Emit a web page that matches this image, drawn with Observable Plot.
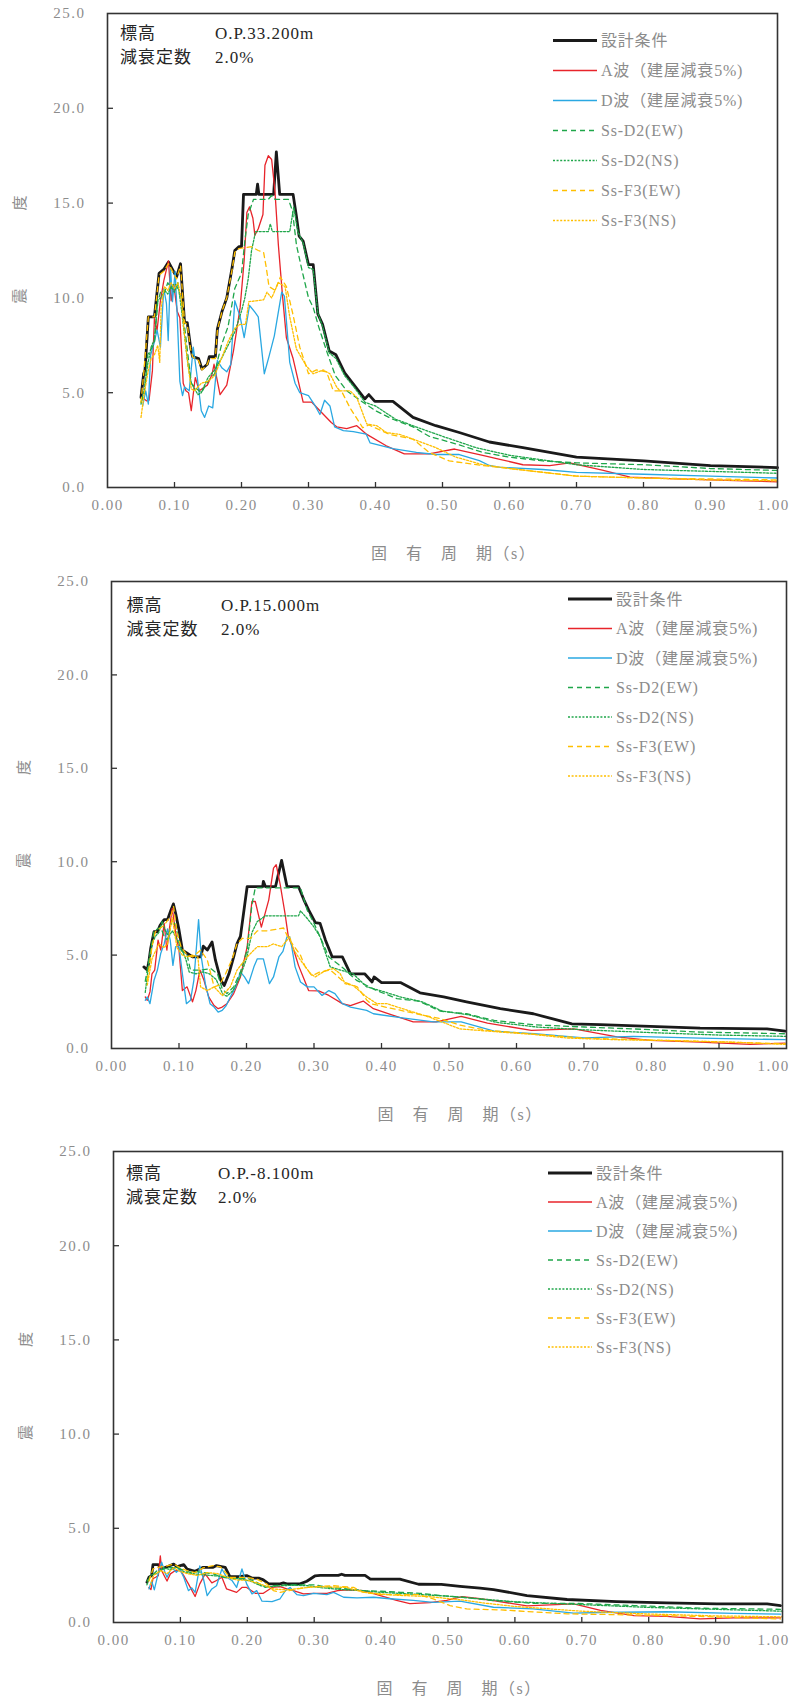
<!DOCTYPE html>
<html><head><meta charset="utf-8">
<script src="https://cdn.jsdelivr.net/npm/d3@7"></script>
<script src="https://cdn.jsdelivr.net/npm/@observablehq/plot@0.6"></script>
<style>
body{margin:0;background:#fff}
#root{position:relative;width:793px;height:1702px;overflow:hidden;background:#fff}
#root svg{position:absolute;left:0}
#root g[aria-label="x-axis tick label"] text,#root g[aria-label="y-axis tick label"] text{letter-spacing:1.5px}
</style></head><body><div id="root"></div>
<script>
// ---- names / ticks ----
const seriesNames = ["設計条件","A波（建屋減衰5%)","D波（建屋減衰5%)","Ss-D2(EW)","Ss-D2(NS)","Ss-F3(EW)","Ss-F3(NS)"];
const annoKeys = ["標高","減衰定数"];
const elevations = ["O.P.33.200m","O.P.15.000m","O.P.-8.100m"];
const dampingValue = "2.0%";
const xTitle = "固　有　周　期（s）";
const yTitleChars = ["震","度"];
const xTicks = [0,0.1,0.2,0.3,0.4,0.5,0.6,0.7,0.8,0.9,1.0];
const yTicks = [0,5,10,15,20,25];

// ---- panel 1 (O.P.33.200m) ----
const p1Design = [[0.050,4.75],[0.054,6.0],[0.056,6.2],[0.061,9.0],[0.070,9.0],[0.077,11.3],[0.084,11.5],[0.091,11.9],[0.097,11.5],[0.103,11.1],[0.109,11.8],[0.115,8.7],[0.119,8.7],[0.124,7.4],[0.127,6.9],[0.136,6.8],[0.141,6.25],[0.149,6.5],[0.152,6.9],[0.161,6.9],[0.164,8.35],[0.171,9.3],[0.178,10.0],[0.186,11.6],[0.190,12.5],[0.196,12.7],[0.200,12.7],[0.203,15.46],[0.222,15.46],[0.224,16.0],[0.226,15.46],[0.248,15.46],[0.252,17.7],[0.257,15.46],[0.277,15.46],[0.282,14.3],[0.286,13.26],[0.292,13.0],[0.300,11.75],[0.307,11.75],[0.314,9.15],[0.321,8.6],[0.331,7.2],[0.341,7.0],[0.354,6.05],[0.384,4.67],[0.390,4.9],[0.399,4.54],[0.426,4.54],[0.456,3.7],[0.490,3.26],[0.525,2.9],[0.570,2.4],[0.62,2.1],[0.70,1.6],[0.80,1.4],[0.90,1.15],[1.00,1.05]];
const p1A = [[0.052,4.75],[0.058,4.57],[0.062,4.6],[0.067,6.15],[0.070,8.9],[0.074,8.3],[0.079,9.85],[0.084,10.9],[0.091,11.95],[0.095,9.85],[0.099,10.7],[0.104,9.3],[0.108,8.95],[0.113,5.5],[0.117,5.1],[0.121,5.0],[0.125,4.05],[0.131,5.8],[0.137,5.1],[0.149,5.4],[0.156,5.96],[0.159,6.5],[0.168,4.9],[0.178,5.4],[0.188,7.2],[0.198,9.5],[0.204,12.0],[0.208,14.5],[0.212,14.8],[0.217,14.2],[0.220,13.3],[0.225,13.65],[0.232,14.4],[0.235,17.0],[0.240,17.5],[0.245,17.3],[0.250,15.6],[0.255,12.8],[0.261,10.2],[0.267,7.9],[0.277,6.8],[0.292,4.5],[0.305,4.5],[0.317,4.05],[0.334,3.43],[0.342,3.2],[0.357,3.1],[0.372,3.26],[0.387,2.8],[0.416,2.2],[0.443,1.77],[0.480,1.77],[0.518,2.03],[0.560,1.7],[0.584,1.5],[0.62,1.2],[0.66,1.15],[0.69,1.3],[0.74,0.9],[0.78,0.55],[0.85,0.45],[0.95,0.35],[1.0,0.3]];
const p1D = [[0.0525,4.3],[0.057,5.1],[0.061,4.4],[0.0645,7.0],[0.069,7.55],[0.074,8.3],[0.079,7.4],[0.084,10.5],[0.088,9.7],[0.0906,7.75],[0.094,11.6],[0.097,9.8],[0.101,11.4],[0.104,9.1],[0.108,5.6],[0.112,4.85],[0.115,5.3],[0.122,5.1],[0.128,7.4],[0.134,5.8],[0.140,4.05],[0.145,3.7],[0.151,4.3],[0.157,4.2],[0.164,6.7],[0.171,6.3],[0.178,6.1],[0.184,6.5],[0.190,9.85],[0.198,9.0],[0.204,7.9],[0.212,9.6],[0.220,9.25],[0.225,9.0],[0.234,6.0],[0.241,6.9],[0.249,8.0],[0.260,10.3],[0.264,10.1],[0.272,6.6],[0.280,5.5],[0.287,5.0],[0.300,4.85],[0.310,4.3],[0.317,3.85],[0.324,4.6],[0.332,4.3],[0.339,3.2],[0.352,3.0],[0.367,2.95],[0.386,2.82],[0.392,2.35],[0.426,2.05],[0.461,1.85],[0.490,1.74],[0.525,1.74],[0.555,1.42],[0.570,1.16],[0.584,1.07],[0.65,0.95],[0.70,0.8],[0.80,0.7],[0.90,0.6],[1.0,0.5]];
const p1D2EW = [[0.05,4.5],[0.055,5.0],[0.06,7.0],[0.065,7.3],[0.07,7.6],[0.075,9.8],[0.08,10.4],[0.085,10.3],[0.09,10.8],[0.095,10.5],[0.10,10.8],[0.105,10.5],[0.11,10.0],[0.115,8.5],[0.12,7.0],[0.125,5.5],[0.13,5.3],[0.14,5.0],[0.15,5.6],[0.16,6.0],[0.165,6.8],[0.17,7.5],[0.18,8.5],[0.19,10.5],[0.20,11.3],[0.205,13.0],[0.21,14.4],[0.218,15.2],[0.240,15.2],[0.245,15.4],[0.250,15.2],[0.270,15.2],[0.276,14.6],[0.282,12.8],[0.29,11.5],[0.30,10.0],[0.307,9.5],[0.315,8.5],[0.327,7.2],[0.34,5.9],[0.357,5.1],[0.377,4.6],[0.40,4.05],[0.426,3.6],[0.456,3.2],[0.48,2.7],[0.52,2.3],[0.56,1.85],[0.6,1.6],[0.65,1.4],[0.7,1.3],[0.8,1.2],[0.9,1.0],[1.0,0.9]];
const p1D2NS = [[0.05,4.4],[0.055,5.2],[0.06,6.5],[0.065,7.4],[0.07,7.8],[0.075,9.9],[0.08,10.0],[0.085,10.4],[0.09,10.2],[0.095,10.6],[0.10,10.3],[0.105,10.8],[0.11,9.5],[0.115,8.0],[0.12,6.5],[0.125,5.5],[0.13,5.2],[0.135,4.9],[0.14,5.0],[0.15,5.8],[0.16,6.2],[0.17,6.8],[0.18,7.5],[0.19,8.2],[0.20,9.3],[0.205,10.0],[0.21,11.0],[0.215,12.5],[0.221,13.5],[0.240,13.5],[0.243,13.9],[0.246,13.5],[0.272,13.5],[0.278,14.8],[0.284,13.5],[0.292,12.9],[0.30,11.6],[0.307,11.5],[0.314,9.2],[0.321,8.5],[0.331,7.1],[0.341,6.8],[0.354,5.9],[0.37,5.2],[0.384,4.5],[0.40,4.3],[0.43,3.6],[0.46,3.2],[0.50,2.7],[0.55,2.1],[0.6,1.7],[0.7,1.2],[0.8,0.95],[0.9,0.85],[1.0,0.75]];
const p1F3EW = [[0.05,4.5],[0.054,6.0],[0.061,9.0],[0.070,9.0],[0.077,11.2],[0.084,11.4],[0.091,11.8],[0.097,11.4],[0.103,11.0],[0.109,11.7],[0.115,8.7],[0.119,8.6],[0.124,7.3],[0.127,6.9],[0.136,6.7],[0.141,6.2],[0.149,6.5],[0.152,6.8],[0.161,6.8],[0.164,8.3],[0.171,9.3],[0.178,10.0],[0.186,11.5],[0.190,12.4],[0.196,12.6],[0.215,12.7],[0.225,12.5],[0.233,12.4],[0.237,11.6],[0.241,10.6],[0.25,10.4],[0.258,11.1],[0.267,10.6],[0.277,9.1],[0.287,7.4],[0.30,6.0],[0.312,6.2],[0.327,6.1],[0.337,5.1],[0.349,5.1],[0.362,4.2],[0.381,3.15],[0.39,3.3],[0.421,2.8],[0.456,2.55],[0.48,1.85],[0.51,1.4],[0.56,1.16],[0.6,1.0],[0.65,0.8],[0.7,0.6],[0.8,0.5],[0.9,0.45],[1.0,0.4]];
const p1F3NS = [[0.05,3.7],[0.055,5.0],[0.06,6.0],[0.065,6.8],[0.07,7.0],[0.075,7.5],[0.078,6.6],[0.08,9.5],[0.085,10.6],[0.09,10.4],[0.095,10.8],[0.10,10.5],[0.105,10.8],[0.11,10.0],[0.115,8.0],[0.12,6.5],[0.125,5.2],[0.13,5.1],[0.14,5.5],[0.15,5.6],[0.16,5.9],[0.17,6.8],[0.18,7.7],[0.19,8.4],[0.198,8.6],[0.206,8.6],[0.211,9.8],[0.233,9.9],[0.238,10.3],[0.245,10.0],[0.255,10.8],[0.265,10.6],[0.272,9.0],[0.282,7.3],[0.297,6.4],[0.307,6.0],[0.322,6.2],[0.332,6.0],[0.342,5.3],[0.347,5.1],[0.362,5.1],[0.372,4.75],[0.387,3.35],[0.402,3.26],[0.416,2.9],[0.436,2.8],[0.46,2.5],[0.49,2.1],[0.52,1.6],[0.56,1.2],[0.6,1.0],[0.7,0.6],[0.8,0.5],[0.9,0.4],[1.0,0.35]];

// ---- panel 2 (O.P.15.000m) ----
const p2Design = [[0.048,4.37],[0.053,4.2],[0.0557,4.73],[0.058,5.35],[0.063,6.25],[0.068,6.25],[0.072,6.6],[0.078,6.9],[0.083,6.9],[0.088,7.4],[0.0917,7.74],[0.095,7.24],[0.100,6.35],[0.105,5.27],[0.112,5.1],[0.120,4.9],[0.132,4.9],[0.136,5.48],[0.142,5.27],[0.149,5.7],[0.154,4.73],[0.162,3.65],[0.167,3.37],[0.174,4.0],[0.181,4.9],[0.186,5.62],[0.191,6.0],[0.201,8.67],[0.224,8.67],[0.225,8.95],[0.228,8.67],[0.243,8.67],[0.252,10.07],[0.260,8.67],[0.277,8.67],[0.285,7.96],[0.292,7.42],[0.302,6.74],[0.309,6.7],[0.317,5.8],[0.327,4.9],[0.342,4.9],[0.354,4.0],[0.375,4.0],[0.386,3.56],[0.389,3.83],[0.400,3.53],[0.428,3.53],[0.457,2.98],[0.492,2.76],[0.526,2.49],[0.576,2.13],[0.625,1.86],[0.682,1.32],[0.724,1.28],[0.798,1.18],[0.872,1.09],[0.971,1.05],[0.998,0.93]];
const p2A = [[0.050,2.76],[0.053,2.58],[0.057,3.03],[0.060,4.0],[0.064,4.2],[0.069,5.8],[0.073,5.27],[0.078,6.7],[0.082,5.27],[0.085,6.2],[0.090,7.5],[0.095,6.2],[0.100,5.27],[0.105,3.1],[0.112,3.3],[0.120,2.5],[0.125,3.1],[0.131,4.2],[0.137,3.65],[0.144,2.76],[0.152,2.3],[0.158,2.13],[0.164,2.22],[0.171,2.4],[0.181,2.94],[0.191,3.83],[0.201,5.45],[0.208,7.87],[0.213,7.87],[0.222,6.5],[0.233,7.96],[0.240,9.66],[0.244,9.84],[0.250,8.76],[0.257,7.24],[0.262,5.98],[0.270,5.27],[0.277,4.45],[0.285,3.74],[0.292,3.1],[0.307,3.08],[0.322,2.84],[0.342,2.4],[0.354,2.3],[0.373,2.54],[0.388,2.13],[0.413,1.83],[0.447,1.42],[0.481,1.42],[0.518,1.72],[0.557,1.36],[0.622,0.97],[0.685,1.05],[0.749,0.62],[0.798,0.43],[0.872,0.34],[0.946,0.22],[0.998,0.29]];
const p2D = [[0.050,2.58],[0.053,2.76],[0.057,2.4],[0.063,3.65],[0.068,4.2],[0.073,5.1],[0.078,5.6],[0.083,6.4],[0.087,5.8],[0.091,4.45],[0.095,5.45],[0.100,5.45],[0.105,4.0],[0.111,2.4],[0.117,2.58],[0.122,3.65],[0.129,6.9],[0.133,4.9],[0.139,3.47],[0.146,2.4],[0.152,2.22],[0.158,1.95],[0.164,2.04],[0.170,2.3],[0.176,2.76],[0.184,3.3],[0.191,4.1],[0.197,3.83],[0.203,3.47],[0.211,4.37],[0.216,4.8],[0.225,4.8],[0.234,3.47],[0.240,3.83],[0.248,4.9],[0.254,5.2],[0.260,5.98],[0.264,5.98],[0.267,5.45],[0.272,4.37],[0.280,3.56],[0.290,3.3],[0.300,3.3],[0.312,2.84],[0.322,3.1],[0.331,2.94],[0.342,2.4],[0.354,2.22],[0.378,2.04],[0.388,1.86],[0.428,1.65],[0.477,1.42],[0.518,1.42],[0.567,0.93],[0.626,0.79],[0.700,0.57],[0.773,0.65],[0.872,0.56],[0.998,0.47]];
const p2D2EW = [[0.050,3.6],[0.058,5.27],[0.063,6.3],[0.073,6.5],[0.078,6.0],[0.083,5.8],[0.09,6.9],[0.095,6.6],[0.103,5.27],[0.112,5.0],[0.117,4.2],[0.132,4.2],[0.147,4.28],[0.157,4.0],[0.164,3.2],[0.171,2.94],[0.181,3.3],[0.191,4.1],[0.201,5.27],[0.208,7.7],[0.213,8.6],[0.280,8.6],[0.290,7.4],[0.300,6.7],[0.309,5.98],[0.322,4.9],[0.344,4.28],[0.363,3.65],[0.393,3.1],[0.423,2.67],[0.455,2.54],[0.487,2.0],[0.526,1.86],[0.567,1.5],[0.626,1.27],[0.700,1.15],[0.773,1.05],[0.872,0.88],[0.998,0.79]];
const p2D2NS = [[0.050,3.0],[0.055,4.5],[0.06,5.6],[0.065,6.0],[0.07,6.2],[0.075,6.8],[0.08,6.3],[0.085,6.0],[0.09,6.3],[0.095,6.0],[0.10,5.6],[0.105,5.2],[0.11,4.8],[0.115,4.1],[0.125,4.0],[0.135,4.1],[0.145,4.0],[0.155,3.7],[0.165,2.9],[0.171,2.8],[0.18,3.1],[0.19,3.8],[0.20,4.8],[0.208,6.2],[0.216,6.8],[0.228,7.1],[0.277,7.1],[0.280,7.37],[0.290,6.96],[0.300,6.5],[0.309,5.98],[0.324,4.37],[0.339,4.2],[0.358,4.0],[0.378,3.3],[0.398,3.1],[0.428,2.76],[0.46,2.5],[0.49,2.0],[0.53,1.8],[0.57,1.4],[0.63,1.15],[0.70,1.0],[0.8,0.85],[0.9,0.72],[1.0,0.65]];
const p2F3EW = [[0.053,3.65],[0.060,5.45],[0.065,6.25],[0.078,6.6],[0.088,7.1],[0.092,7.6],[0.097,6.2],[0.103,5.45],[0.112,5.0],[0.120,4.9],[0.132,5.27],[0.142,4.73],[0.152,3.3],[0.160,3.4],[0.169,4.0],[0.179,4.8],[0.186,5.62],[0.194,5.9],[0.206,5.9],[0.216,6.3],[0.231,6.3],[0.255,6.45],[0.262,5.9],[0.270,5.5],[0.28,4.99],[0.287,4.37],[0.297,3.9],[0.309,4.1],[0.324,4.2],[0.334,3.9],[0.344,3.56],[0.364,3.3],[0.378,2.6],[0.384,2.4],[0.408,2.2],[0.452,1.86],[0.487,1.6],[0.516,1.25],[0.557,0.97],[0.6,0.85],[0.65,0.7],[0.7,0.55],[0.8,0.45],[0.9,0.35],[1.0,0.25]];
const p2F3NS = [[0.053,3.4],[0.060,4.8],[0.070,5.6],[0.078,5.4],[0.083,5.6],[0.090,7.0],[0.097,5.4],[0.105,5.0],[0.112,4.9],[0.12,5.0],[0.128,4.9],[0.132,3.3],[0.142,3.1],[0.152,3.3],[0.164,2.84],[0.176,3.3],[0.186,4.2],[0.201,4.9],[0.211,5.27],[0.216,5.45],[0.231,5.45],[0.240,5.6],[0.252,5.45],[0.264,5.98],[0.270,5.27],[0.280,4.73],[0.295,4.0],[0.302,3.83],[0.309,4.0],[0.319,4.2],[0.329,4.28],[0.339,4.0],[0.346,3.47],[0.358,3.37],[0.378,2.76],[0.393,2.4],[0.408,2.4],[0.447,1.95],[0.471,1.68],[0.516,1.05],[0.576,0.88],[0.626,0.75],[0.675,0.56],[0.749,0.47],[0.823,0.43],[0.921,0.34],[0.998,0.22]];

// ---- panel 3 (O.P.-8.100m) ----
const p3Design = [[0.050,2.14],[0.053,2.4],[0.057,2.49],[0.059,3.07],[0.067,3.07],[0.071,2.84],[0.080,2.96],[0.090,3.1],[0.095,2.96],[0.100,3.02],[0.105,3.07],[0.110,2.84],[0.122,2.72],[0.134,2.93],[0.149,2.93],[0.154,3.02],[0.167,2.93],[0.174,2.44],[0.187,2.44],[0.199,2.49],[0.207,2.36],[0.217,2.36],[0.224,2.26],[0.232,2.05],[0.249,2.05],[0.254,2.1],[0.259,2.05],[0.279,2.05],[0.289,2.19],[0.301,2.47],[0.309,2.5],[0.336,2.5],[0.341,2.56],[0.346,2.5],[0.376,2.5],[0.384,2.3],[0.428,2.3],[0.456,2.03],[0.490,2.02],[0.518,1.92],[0.548,1.83],[0.568,1.75],[0.618,1.43],[0.678,1.22],[0.752,1.11],[0.827,1.04],[0.902,0.99],[0.977,0.99],[0.997,0.9]];
const p3A = [[0.053,1.86],[0.056,1.75],[0.059,2.33],[0.063,2.4],[0.067,2.49],[0.070,3.54],[0.072,2.75],[0.077,2.4],[0.080,2.2],[0.085,2.58],[0.092,2.75],[0.100,2.75],[0.105,2.49],[0.112,2.05],[0.122,1.38],[0.129,2.05],[0.137,2.58],[0.147,2.1],[0.154,2.23],[0.162,2.4],[0.169,1.78],[0.184,1.6],[0.192,1.86],[0.199,1.86],[0.212,1.55],[0.224,1.55],[0.237,1.86],[0.249,1.9],[0.259,1.78],[0.269,1.69],[0.284,1.52],[0.299,1.55],[0.319,1.55],[0.335,1.69],[0.349,1.73],[0.374,1.69],[0.399,1.43],[0.423,1.17],[0.443,1.0],[0.473,1.05],[0.498,1.17],[0.521,1.37],[0.548,1.26],[0.568,1.16],[0.618,0.88],[0.688,0.99],[0.728,0.64],[0.778,0.37],[0.827,0.32],[0.877,0.19],[0.927,0.25],[0.997,0.25]];
const p3D = [[0.053,1.78],[0.057,2.2],[0.061,1.73],[0.066,2.49],[0.072,3.2],[0.077,2.66],[0.080,2.4],[0.087,2.93],[0.094,2.66],[0.099,2.84],[0.105,2.4],[0.112,1.69],[0.117,1.84],[0.122,1.6],[0.129,3.0],[0.135,2.23],[0.140,1.43],[0.147,1.78],[0.154,1.95],[0.162,2.84],[0.169,2.4],[0.177,2.23],[0.184,1.86],[0.192,2.84],[0.199,2.05],[0.207,1.52],[0.214,1.69],[0.222,1.13],[0.237,1.11],[0.249,1.26],[0.257,1.69],[0.264,1.86],[0.274,1.48],[0.284,1.43],[0.299,1.55],[0.319,1.48],[0.329,1.6],[0.344,1.34],[0.364,1.31],[0.389,1.34],[0.413,1.26],[0.448,1.17],[0.478,1.07],[0.518,1.13],[0.568,0.81],[0.627,0.72],[0.688,0.5],[0.728,0.53],[0.827,0.57],[0.927,0.48],[0.997,0.44]];
const p3D2EW = [[0.050,2.2],[0.055,2.4],[0.065,2.75],[0.075,2.84],[0.085,2.93],[0.100,2.84],[0.115,2.66],[0.125,2.7],[0.134,2.66],[0.149,2.58],[0.164,2.4],[0.184,2.3],[0.199,2.36],[0.214,2.14],[0.227,1.86],[0.239,1.95],[0.259,2.0],[0.279,2.0],[0.299,2.0],[0.324,1.86],[0.349,1.78],[0.374,1.69],[0.399,1.66],[0.429,1.6],[0.458,1.55],[0.488,1.43],[0.521,1.34],[0.568,1.16],[0.627,1.02],[0.688,1.02],[0.778,0.9],[0.877,0.76],[0.997,0.7]];
const p3D2NS = [[0.050,2.0],[0.055,2.5],[0.065,2.6],[0.075,2.9],[0.085,2.8],[0.095,2.95],[0.105,2.7],[0.115,2.6],[0.13,2.55],[0.145,2.5],[0.16,2.45],[0.175,2.4],[0.19,2.3],[0.205,2.2],[0.22,1.95],[0.235,1.9],[0.25,1.95],[0.27,1.98],[0.29,1.95],[0.31,1.85],[0.34,1.75],[0.37,1.7],[0.40,1.6],[0.45,1.5],[0.50,1.4],[0.55,1.25],[0.60,1.1],[0.70,0.95],[0.80,0.8],[0.90,0.7],[1.0,0.6]];
const p3F3EW = [[0.053,2.2],[0.059,2.85],[0.067,2.93],[0.080,3.0],[0.090,3.1],[0.100,2.9],[0.110,2.75],[0.122,2.65],[0.134,2.9],[0.149,3.02],[0.160,2.95],[0.174,2.4],[0.199,2.4],[0.214,2.3],[0.229,2.05],[0.239,1.69],[0.249,1.6],[0.274,1.78],[0.299,1.9],[0.329,1.95],[0.359,1.86],[0.374,1.6],[0.399,1.48],[0.456,1.48],[0.478,1.25],[0.503,0.9],[0.528,0.72],[0.578,0.67],[0.678,0.46],[0.778,0.4],[0.877,0.32],[0.997,0.19]];
const p3F3NS = [[0.055,2.0],[0.06,2.5],[0.07,2.75],[0.08,2.6],[0.09,2.9],[0.10,2.7],[0.11,2.6],[0.125,2.5],[0.14,2.65],[0.155,2.6],[0.17,2.4],[0.185,2.25],[0.20,2.25],[0.219,2.05],[0.239,1.78],[0.259,1.73],[0.289,1.86],[0.309,1.9],[0.349,1.86],[0.374,1.6],[0.42,1.45],[0.47,1.38],[0.52,1.2],[0.55,1.05],[0.6,0.85],[0.7,0.6],[0.8,0.45],[0.9,0.35],[1.0,0.3]];

// ---- styles ----
const FONT = '"Liberation Serif","Noto Sans CJK JP",serif';
const seriesColors = ["#1a1a1a","#e8242b","#2aa8e2","#1fa64a","#1fa64a","#ffbf00","#ffbf00"];
const seriesWidths = [2.8,1.3,1.3,1.3,1.3,1.3,1.3];
const seriesDash = [null,null,null,"5,4","2,1.6","5,4","2,1.6"];
const legendWidths = [3,1.5,1.5,1.3,1.3,1.3,1.3];

const panels = [
  {series:[p1Design,p1A,p1D,p1D2EW,p1D2NS,p1F3EW,p1F3NS], elev:elevations[0],
   top:0, height:565, mL:107, mR:16, mT:13, mB:78,
   annX:13, annY:20.5, valX:108, legX:446, legY:27.5, legStep:30},
  {series:[p2Design,p2A,p2D,p2D2EW,p2D2NS,p2F3EW,p2F3NS], elev:elevations[1],
   top:560, height:560, mL:111, mR:7, mT:21, mB:72,
   annX:15.5, annY:24, valX:110, legX:457, legY:18, legStep:29.5},
  {series:[p3Design,p3A,p3D,p3D2EW,p3D2NS,p3F3EW,p3F3NS], elev:elevations[2],
   top:1130, height:572, mL:113, mR:11, mT:21, mB:80,
   annX:13, annY:22.5, valX:105, legX:435, legY:22, legStep:29}
];

function overlay(p) {
  return () => {
    const W = 793 - p.mL - p.mR, H = p.height - p.mT - p.mB;
    const L = p.mL, T = p.mT, B = p.mT + H;
    const g = d3.create("svg:g").attr("font-family", FONT).attr("text-anchor", "start");
    // annotation
    const ann = g.append("g").attr("fill", "#262626").attr("font-size", 17).attr("letter-spacing", "1px");
    ann.append("text").attr("x", L + p.annX).attr("y", T + p.annY).attr("dy", "0.35em").text(annoKeys[0]);
    ann.append("text").attr("x", L + p.valX).attr("y", T + p.annY).attr("dy", "0.35em").text(p.elev);
    ann.append("text").attr("x", L + p.annX).attr("y", T + p.annY + 24).attr("dy", "0.35em").text(annoKeys[1]);
    ann.append("text").attr("x", L + p.valX).attr("y", T + p.annY + 24).attr("dy", "0.35em").text(dampingValue);
    // legend
    const lg = g.append("g");
    seriesNames.forEach((name, i) => {
      const y = T + p.legY + i * p.legStep, x = L + p.legX;
      const ln = lg.append("line").attr("x1", x).attr("x2", x + 44).attr("y1", y).attr("y2", y)
        .attr("stroke", seriesColors[i]).attr("stroke-width", legendWidths[i]);
      if (seriesDash[i]) ln.attr("stroke-dasharray", seriesDash[i]);
      lg.append("text").attr("x", x + 48).attr("y", y).attr("dy", "0.36em")
        .attr("fill", "#8c8c8c").attr("font-size", 16).attr("letter-spacing", "0.8px").text(name);
    });
    // axis titles
    g.append("text").attr("x", L + W / 2 - 71).attr("y", B + 66).attr("dy", "0.35em")
      .attr("fill", "#8c8c8c").attr("font-size", 16).attr("letter-spacing", "1.5px").text(xTitle);
    const yc = T + H / 2, yx = L - 87;
    g.append("text").attr("transform", `translate(${yx},${yc + 46}) rotate(-90)`).attr("text-anchor", "middle")
      .attr("dy", "0.35em").attr("fill", "#8c8c8c").attr("font-size", 15).text(yTitleChars[0]);
    g.append("text").attr("transform", `translate(${yx},${yc - 47}) rotate(-90)`).attr("text-anchor", "middle")
      .attr("dy", "0.35em").attr("fill", "#8c8c8c").attr("font-size", 15).text(yTitleChars[1]);
    return g.node();
  };
}

const root = document.getElementById("root");
panels.forEach(p => {
  const W = 793 - p.mL - p.mR, H = p.height - p.mT - p.mB;
  const rows = [];
  p.series.forEach((arr, i) => arr.forEach(([x, y]) => rows.push({s: i, x, y})));
  const lineMarks = seriesNames.map((_, i) => Plot.line(rows.filter(r => r.s === i), {
    x: "x", y: "y", stroke: seriesColors[i], strokeWidth: seriesWidths[i],
    strokeDasharray: seriesDash[i] || undefined, strokeLinejoin: "round"
  }));
  // keep the last tick label ("1.00") inside the page
  const lastDx = Math.min(0, 790 - (793 - p.mR) - 17);
  const chart = Plot.plot({
    width: 793, height: p.height,
    marginLeft: p.mL, marginRight: p.mR, marginTop: p.mT, marginBottom: p.mB,
    style: {background: "transparent", fontFamily: FONT, fontSize: "15px", color: "#8c8c8c", overflow: "visible"},
    x: {domain: [0, 1], axis: null},
    y: {domain: [0, 25], axis: null},
    marks: [
      ...lineMarks,
      Plot.tickY(yTicks.filter(v => v > 0 && v < 25), {y: d => d, stroke: "#333", strokeWidth: 1.3, insetRight: W - 6}),
      Plot.tickX(xTicks.filter(v => v > 0 && v < 1), {x: d => d, stroke: "#333", strokeWidth: 1.3, insetTop: H - 5}),
      Plot.frame({stroke: "#333", strokeWidth: 1.6}),
      Plot.axisX(xTicks.filter(v => v < 1), {tickSize: 0, tickPadding: 12, tickFormat: d3.format(".2f"), label: null, fill: "#8c8c8c"}),
      Plot.axisX(xTicks.filter(v => v >= 1), {tickSize: 0, tickPadding: 12, tickFormat: d3.format(".2f"), label: null, fill: "#8c8c8c", dx: lastDx}),
      Plot.axisY(yTicks, {tickSize: 0, tickPadding: 22, tickFormat: d3.format(".1f"), label: null, fill: "#8c8c8c"}),
      overlay(p)
    ]
  });
  chart.style.top = p.top + "px";
  root.appendChild(chart);
});
</script>
</body></html>
